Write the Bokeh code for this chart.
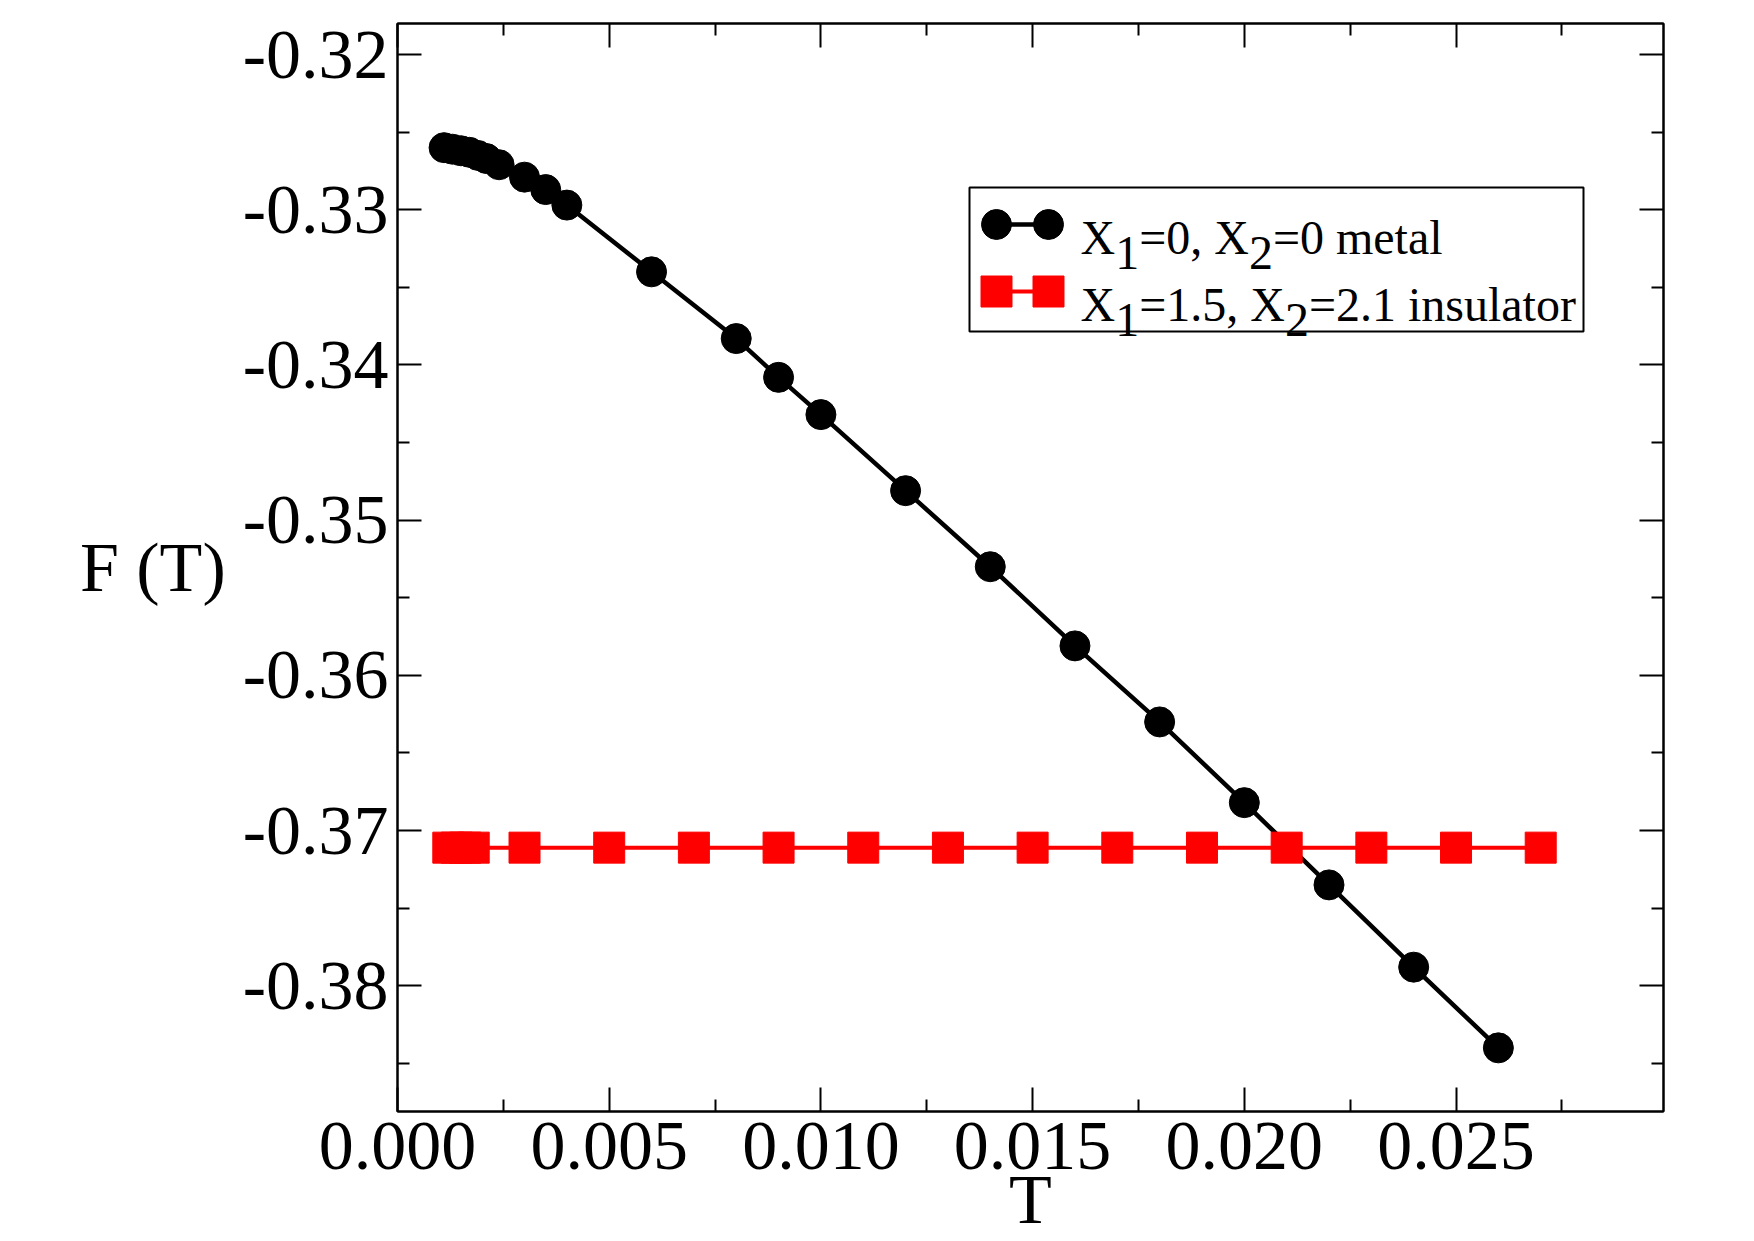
from bokeh.plotting import figure
from bokeh.models import Range1d, FixedTicker, LinearAxis, Label, BoxAnnotation, NumeralTickFormatter
from bokeh.embed import file_html
from bokeh.resources import INLINE

# Free energy of the metallic solution (X1 = 0, X2 = 0)
T_metal = [0.0011, 0.0013, 0.0015, 0.0017, 0.0019, 0.0021, 0.0024, 0.0030, 0.0035, 0.0040,
           0.0060, 0.0080, 0.0090, 0.0100, 0.0120, 0.0140, 0.0160, 0.0180, 0.0200, 0.0220,
           0.0240, 0.0260]
F_metal = [-0.3260, -0.3261, -0.3262, -0.3263, -0.3265, -0.3267, -0.3271, -0.3279, -0.3287, -0.3297,
           -0.3340, -0.3383, -0.3408, -0.3432, -0.3481, -0.3530, -0.3581, -0.3630, -0.3682, -0.3735,
           -0.3788, -0.3840]

# Free energy of the insulating solution (X1 = 1.5, X2 = 2.1)
T_ins = [0.0012, 0.0014, 0.0016, 0.0018, 0.0030, 0.0050, 0.0070, 0.0090, 0.0110, 0.0130,
         0.0150, 0.0170, 0.0190, 0.0210, 0.0230, 0.0250, 0.0270]
F_ins = [-0.3711, -0.3711, -0.3711, -0.3711, -0.3711, -0.3711, -0.3711, -0.3711, -0.3711, -0.3711,
         -0.3711, -0.3711, -0.3711, -0.3711, -0.3711, -0.3711, -0.3711]

x_major = [0.000, 0.005, 0.010, 0.015, 0.020, 0.025]
x_minor = [0.0025, 0.0075, 0.0125, 0.0175, 0.0225, 0.0275]
y_major = [-0.38, -0.37, -0.36, -0.35, -0.34, -0.33, -0.32]
y_minor = [-0.385, -0.375, -0.365, -0.355, -0.345, -0.335, -0.325]

X0, X1 = 0.0, 0.0299
Y0, Y1 = -0.3881, -0.3180

FONT = "Liberation Serif"

p = figure(width=1754, height=1241,
           x_range=Range1d(X0, X1), y_range=Range1d(Y0, Y1),
           output_backend="svg", toolbar_location=None,
           min_border_left=397, min_border_right=91,
           min_border_top=23, min_border_bottom=130,
           background_fill_color="white", border_fill_color="white",
           outline_line_color="black", outline_line_width=2)
p.xgrid.visible = False
p.ygrid.visible = False

xt = FixedTicker(ticks=x_major, minor_ticks=x_minor)
yt = FixedTicker(ticks=y_major, minor_ticks=y_minor)
p.xaxis.ticker = xt
p.yaxis.ticker = yt
p.xaxis.formatter = NumeralTickFormatter(format="0.000")
p.yaxis.formatter = NumeralTickFormatter(format="0.00")

# mirror ticks on the top and right edges
p.add_layout(LinearAxis(ticker=xt), "above")
p.add_layout(LinearAxis(ticker=yt), "right")

for ax in p.axis:
    ax.axis_line_width = 2
    ax.axis_line_color = "black"
    ax.major_tick_in = 24
    ax.major_tick_out = 0
    ax.minor_tick_in = 12
    ax.minor_tick_out = 0
    ax.major_tick_line_width = 2
    ax.minor_tick_line_width = 2
    ax.major_tick_line_color = "black"
    ax.minor_tick_line_color = "black"
    ax.major_label_text_font = FONT
    ax.major_label_text_font_size = "70px"
    ax.major_label_text_color = "black"
    ax.axis_label_text_font = FONT
    ax.axis_label_text_font_size = "70px"
    ax.axis_label_text_font_style = "normal"
    ax.axis_label_text_color = "black"

for ax in p.above + p.right:
    ax.major_label_text_color = None
    ax.major_label_text_font_size = "1px"
    ax.major_label_standoff = 0

xa = p.below[0]
ya = p.left[0]
xa.major_label_standoff = 11
ya.major_label_standoff = 9

xa.axis_label = "T"
xa.axis_label_standoff = -11
ya.axis_label = "F (T)"
ya.axis_label_orientation = "horizontal"
ya.axis_label_standoff = 14

# curves
p.line(T_metal, F_metal, line_color="black", line_width=4.5)
p.scatter(T_metal, F_metal, marker="circle", size=30, fill_color="black", line_color="black")
p.line(T_ins, F_ins, line_color="#ff0000", line_width=4)
p.scatter(T_ins, F_ins, marker="square", size=31, fill_color="#ff0000", line_color="#ff0000")

# legend, laid out in frame pixels
FL, FR, FT, FB = 397, 1663, 23, 1111


def dx(px):
    return X0 + (px - FL) / (FR - FL) * (X1 - X0)


def dy(py):
    return Y1 - (py - FT) / (FB - FT) * (Y1 - Y0)


p.add_layout(BoxAnnotation(left=dx(969), right=dx(1583), top=dy(187), bottom=dy(331),
                           fill_color="white", fill_alpha=1.0, line_color="black",
                           line_alpha=1.0, line_width=2, level="underlay"))

sw_x = [dx(996), dx(1048)]
p.line(sw_x, [dy(224), dy(224)], line_color="black", line_width=4.5)
p.scatter(sw_x, [dy(224), dy(224)], marker="circle", size=30, fill_color="black", line_color="black")
p.line(sw_x, [dy(291), dy(291)], line_color="#ff0000", line_width=4)
p.scatter(sw_x, [dy(291), dy(291)], marker="square", size=31, fill_color="#ff0000", line_color="#ff0000")

# Times-compatible advance widths (em)
ADV = {"X": 0.722, "=": 0.564, ",": 0.25, " ": 0.25, ".": 0.25, "m": 0.778, "e": 0.444,
       "t": 0.278, "a": 0.444, "l": 0.278, "i": 0.278, "n": 0.5, "s": 0.389, "u": 0.5,
       "o": 0.5, "r": 0.333}
LEG_FS = 48


def width(s):
    return sum(ADV.get(c, 0.5) for c in s) * LEG_FS


def legend_text(pieces, x_px, base_py):
    off = 0.0
    for txt, sub in pieces:
        p.add_layout(Label(x=dx(x_px), y=dy(base_py), x_offset=off, y_offset=-15 if sub else 0,
                           text=txt, text_align="left", text_baseline="alphabetic",
                           text_font=FONT, text_font_size=f"{LEG_FS}px", text_color="black"))
        off += width(txt)


legend_text([("X", 0), ("1", 1), ("=0, X", 0), ("2", 1), ("=0 metal", 0)], 1080, 237)
legend_text([("X", 0), ("1", 1), ("=1.5, X", 0), ("2", 1), ("=2.1 insulator", 0)], 1080, 304)

open("out.html", "w").write(file_html(p, INLINE))
